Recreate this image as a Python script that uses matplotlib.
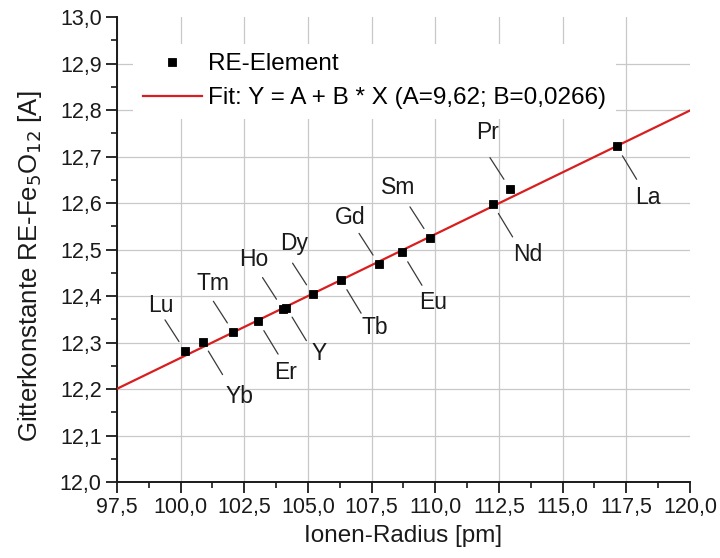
import matplotlib
matplotlib.use('Agg')
import matplotlib.pyplot as plt
import numpy as np
from matplotlib.ticker import MultipleLocator, FuncFormatter

# ---- data ----
elements = ['Lu', 'Yb', 'Tm', 'Er', 'Ho', 'Y', 'Dy', 'Tb', 'Gd', 'Eu', 'Sm', 'Nd', 'Pr', 'La']
radius = [100.17, 100.86, 102.07, 103.04, 104.00, 104.15, 105.18, 106.30,
          107.79, 108.69, 109.79, 112.25, 112.93, 117.12]
lattice = [12.282, 12.302, 12.322, 12.346, 12.373, 12.375, 12.404, 12.434,
           12.468, 12.494, 12.525, 12.598, 12.631, 12.722]
fit_A = 9.607   # intercept of the drawn fit line
fit_B = 0.0266  # slope of the drawn fit line
fit_label = 'Fit: Y = A + B * X (A=9,62; B=0,0266)'
x_ticks = [97.5, 100.0, 102.5, 105.0, 107.5, 110.0, 112.5, 115.0, 117.5, 120.0]
y_ticks = [12.0, 12.1, 12.2, 12.3, 12.4, 12.5, 12.6, 12.7, 12.8, 12.9, 13.0]

# ---- layout of labels (pixel offsets, y down) ----
label_side = {'Lu': 'up', 'Tm': 'up', 'Ho': 'up', 'Dy': 'up', 'Gd': 'up', 'Sm': 'up', 'Pr': 'up',
              'Yb': 'down', 'Er': 'down', 'Y': 'down', 'Tb': 'down', 'Eu': 'down', 'Nd': 'down', 'La': 'down'}
text_off = {'Lu': (-24, -45), 'Tm': (-20, -49), 'Ho': (-29, -49), 'Dy': (-18, -51),
            'Gd': (-29, -47), 'Sm': (-32, -50), 'Pr': (-22, -56),
            'Yb': (37, 55), 'Er': (27, 51), 'Y': (33, 46), 'Tb': (34, 47),
            'Eu': (31, 50), 'Nd': (35, 51), 'La': (31, 51)}

plt.rcParams['font.family'] = ['Liberation Sans', 'DejaVu Sans']
plt.rcParams['font.size'] = 16
TXT = '#1a1a1a'

fig = plt.figure(figsize=(7.2, 5.58), dpi=100)
ax = fig.add_axes([0.1625, 0.1362, 0.7958, 0.8333])

ax.set_xlim(x_ticks[0], x_ticks[-1])
ax.set_ylim(y_ticks[0], y_ticks[-1])

# grid
ax.set_xticks(x_ticks)
ax.set_yticks(y_ticks)
ax.grid(True, which='major', color='#c8c8c8', lw=0.9)
ax.set_axisbelow(True)

# fit line
xf = np.array([x_ticks[0], x_ticks[-1]])
fit_line, = ax.plot(xf, fit_A + fit_B * xf, color='#d81e1e', lw=1.6, zorder=3, label=fit_label)
pts, = ax.plot(radius, lattice, 's', color='black', ms=5.4, mew=0.6, zorder=4, label='RE-Element')

# labels with leader lines
for el, x, y in zip(elements, radius, lattice):
    if label_side[el] == 'up':
        start = (-20, 31)
    else:
        start = (20, -33)
    ax.annotate('', xy=(x, y), xycoords='data', xytext=start, textcoords='offset pixels',
                arrowprops=dict(arrowstyle='-', shrinkA=0, shrinkB=8, color='#3a3a3a', lw=0.9),
                zorder=2)
    dx, dy = text_off[el]
    ax.annotate(el, xy=(x, y), xycoords='data', xytext=(dx, -dy), textcoords='offset pixels',
                ha='center', va='center', fontsize=16.5, color=TXT)

# ticks
fmt = FuncFormatter(lambda v, p: ('%.1f' % v).replace('.', ','))
ax.xaxis.set_major_formatter(fmt)
ax.yaxis.set_major_formatter(fmt)
ax.xaxis.set_minor_locator(MultipleLocator(1.25))
ax.yaxis.set_minor_locator(MultipleLocator(0.05))
ax.tick_params(which='major', direction='out', length=8, width=1.3, colors=TXT,
               labelsize=15.5, pad=3)
ax.tick_params(which='minor', direction='out', length=4.5, width=1.2, colors=TXT)

for s in ['top', 'right']:
    ax.spines[s].set_visible(False)
for s in ['left', 'bottom']:
    ax.spines[s].set_linewidth(1.4)
    ax.spines[s].set_color(TXT)

fig.canvas.draw()
ax.xaxis.get_gridlines()[-1].set_visible(False)
ax.yaxis.get_gridlines()[-1].set_visible(False)

ax.set_xlabel('Ionen-Radius [pm]', fontsize=17.5, color=TXT, labelpad=5)
ax.set_ylabel('Gitterkonstante RE-Fe$_5$O$_{12}$ [A]', fontsize=18.5, color=TXT)
ax.yaxis.set_label_coords(-0.127, 0.465)

leg = ax.legend(handles=[pts, fit_line], loc='upper left', bbox_to_anchor=(0.028, 0.943),
                borderaxespad=0, frameon=True, fancybox=False, framealpha=1,
                facecolor='white', edgecolor='none', fontsize=17.5,
                handlelength=2.43, handletextpad=0.25, labelspacing=0.5, borderpad=0.4)

fig.savefig('out.png', dpi=100)
